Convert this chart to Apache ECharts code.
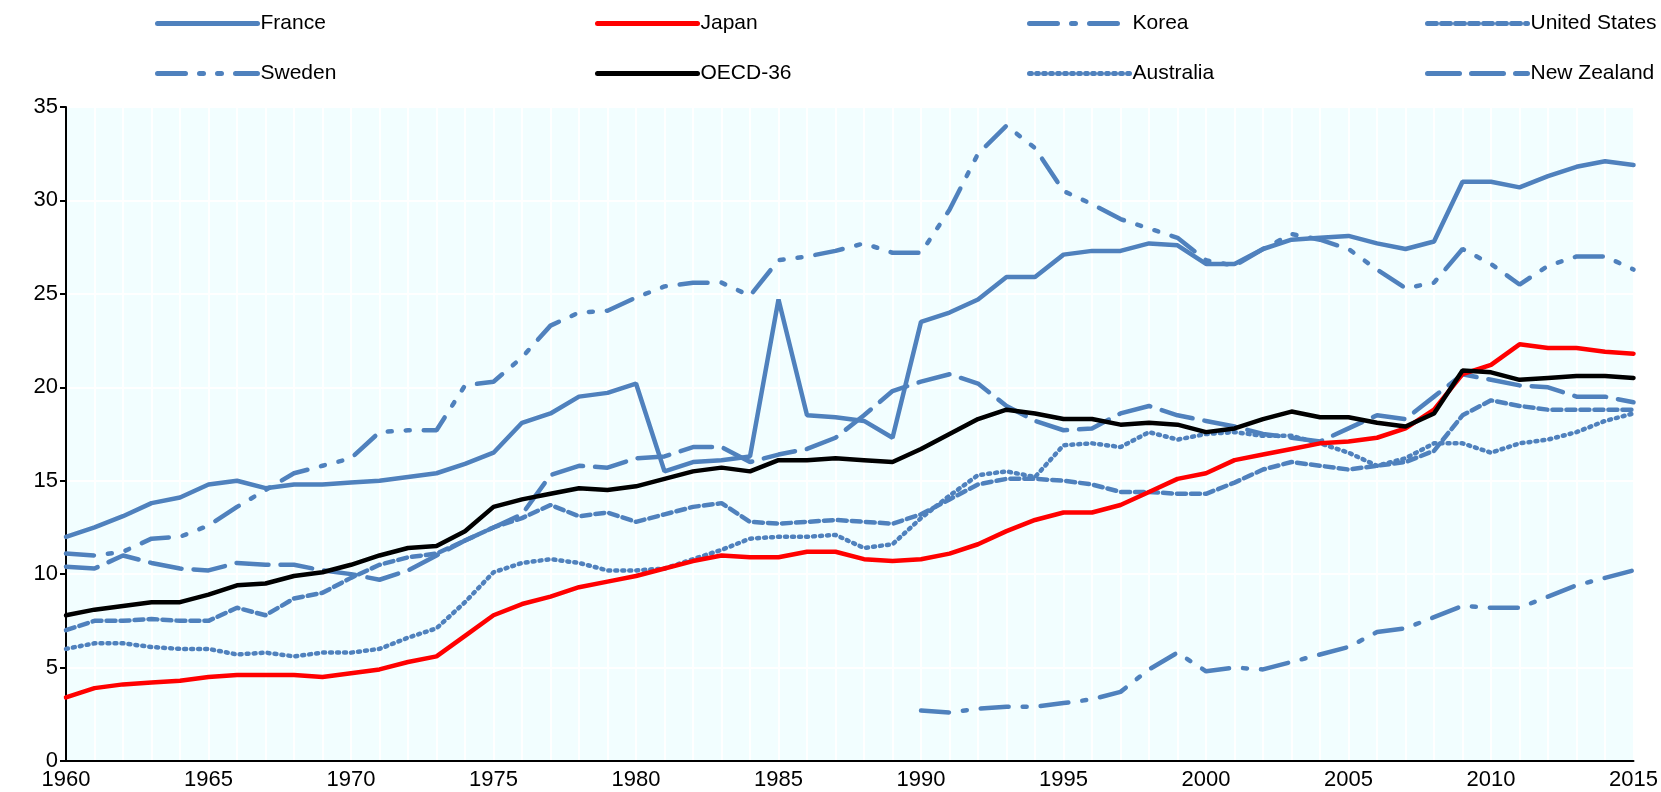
<!DOCTYPE html>
<html>
<head>
  <meta charset="utf-8">
  <script src="https://cdn.jsdelivr.net/npm/echarts@6/dist/echarts.min.js"></script>
  <style>
    html, body { margin: 0; padding: 0; background: #fff; }
    #main { width: 1661px; height: 792px; }
  </style>
</head>
<body>
<div id="main"></div>
<script>
  var years = [];
  for (var y = 1960; y <= 2015; y++) years.push(String(y));

  var france = [12,12.5,13.1,13.8,14.1,14.8,15,14.6,14.8,14.8,14.9,15,15.2,15.4,15.9,16.5,18.1,18.6,19.5,19.7,20.2,15.5,16,16.1,16.3,24.7,18.5,18.4,18.2,17.3,23.5,24,24.7,25.9,25.9,27.1,27.3,27.3,27.7,27.6,26.6,26.6,27.4,27.9,28,28.1,27.7,27.4,27.8,31,31,30.7,31.3,31.8,32.1,31.9];
  var japan = [3.4,3.9,4.1,4.2,4.3,4.5,4.6,4.6,4.6,4.5,4.7,4.9,5.3,5.6,6.7,7.8,8.4,8.8,9.3,9.6,9.9,10.3,10.7,11,10.9,10.9,11.2,11.2,10.8,10.7,10.8,11.1,11.6,12.3,12.9,13.3,13.3,13.7,14.4,15.1,15.4,16.1,16.4,16.7,17,17.1,17.3,17.8,18.8,20.7,21.2,22.3,22.1,22.1,21.9,21.8];
  var korea = [null,null,null,null,null,null,null,null,null,null,null,null,null,null,null,null,null,null,null,null,null,null,null,null,null,null,null,null,null,null,2.7,2.6,2.8,2.9,2.9,3.1,3.3,3.7,4.9,5.8,4.8,5.0,4.9,5.3,5.7,6.1,6.9,7.1,7.7,8.3,8.2,8.2,8.8,9.4,9.8,10.2];
  var unitedStates = [7,7.5,7.5,7.6,7.5,7.5,8.2,7.8,8.7,9,9.8,10.5,10.9,11.1,11.8,12.5,13,13.7,13.1,13.3,12.8,13.2,13.6,13.8,12.8,12.7,12.8,12.9,12.8,12.7,13.2,14,14.8,15.1,15.1,15,14.8,14.4,14.4,14.3,14.3,14.9,15.6,16,15.8,15.6,15.8,16,16.6,18.5,19.3,19,18.8,18.8,18.8,18.8];
  var sweden = [11.1,11,11.2,11.9,12,12.6,13.6,14.5,15.4,15.8,16.2,17.6,17.7,17.7,20.1,20.3,21.6,23.3,24,24.1,24.8,25.4,25.6,25.6,24.9,26.8,27,27.3,27.7,27.2,27.2,29.5,32.5,34,32.8,30.5,29.8,29,28.5,28,26.8,26.5,27.4,28.2,27.9,27.4,26.3,25.3,25.6,27.4,26.6,25.5,26.5,27,27,26.3];
  var oecd = [7.8,8.1,8.3,8.5,8.5,8.9,9.4,9.5,9.9,10.1,10.5,11,11.4,11.5,12.3,13.6,14,14.3,14.6,14.5,14.7,15.1,15.5,15.7,15.5,16.1,16.1,16.2,16.1,16,16.7,17.5,18.3,18.8,18.6,18.3,18.3,18,18.1,18,17.6,17.8,18.3,18.7,18.4,18.4,18.1,17.9,18.6,20.9,20.8,20.4,20.5,20.6,20.6,20.5];
  var australia = [6,6.3,6.3,6.1,6,6,5.7,5.8,5.6,5.8,5.8,6,6.6,7.1,8.5,10.1,10.6,10.8,10.6,10.2,10.2,10.3,10.8,11.3,11.9,12,12,12.1,11.4,11.6,13,14.2,15.3,15.5,15.2,16.9,17,16.8,17.6,17.2,17.5,17.6,17.4,17.4,17,16.5,15.8,16.2,17,17,16.5,17,17.2,17.6,18.2,18.6];
  var newZealand = [10.4,10.3,11,10.6,10.3,10.2,10.6,10.5,10.5,10.2,10,9.7,10.2,11,11.8,12.5,13.2,15.3,15.8,15.7,16.2,16.3,16.8,16.8,16,16.4,16.7,17.3,18.5,19.8,20.3,20.7,20.2,19,18.2,17.7,17.8,18.6,19,18.5,18.2,17.9,17.5,17.3,17.1,17.8,18.5,18.3,19.5,20.7,20.4,20.1,20,19.5,19.5,19.2];

  var blue = '#4f81bd';
  var font = "'Liberation Sans', Arial, sans-serif";

  var seriesDefs = [
    { name: 'France', data: france, color: blue, type: 'solid', col: 0, row: 0 },
    { name: 'Japan', data: japan, color: '#ff0000', type: 'solid', col: 1, row: 0 },
    { name: 'Korea', data: korea, color: blue, type: [28, 14, 4, 14], col: 2, row: 0 },
    { name: 'United States', data: unitedStates, color: blue, type: [9, 5], col: 3, row: 0 },
    { name: 'Sweden', data: sweden, color: blue, type: [28, 14, 4, 14, 4, 14], col: 0, row: 1 },
    { name: 'OECD-36', data: oecd, color: '#000000', type: 'solid', col: 1, row: 1 },
    { name: 'Australia', data: australia, color: blue, type: [2, 5], col: 2, row: 1 },
    { name: 'New Zealand', data: newZealand, color: blue, type: [32, 12], col: 3, row: 1 }
  ];
  var colLeft = [150, 590, 1022, 1420];
  var rowTop = [8, 58];

  var chart = echarts.init(document.getElementById('main'));
  chart.setOption({
    animation: false,
    textStyle: { fontFamily: font },
    legend: seriesDefs.map(function (s) {
      return {
        data: [s.name], left: colLeft[s.col], top: rowTop[s.row],
        itemWidth: 100, itemHeight: 14, itemGap: 0,
        itemStyle: { opacity: 0 },
        lineStyle: { width: 5 },
        textStyle: { fontSize: 21, color: '#000', fontFamily: font, padding: [0, 0, 0, -2] }
      };
    }),
    grid: { left: 66, right: 21, top: 107, bottom: 31, backgroundColor: '#f2feff', show: true, borderWidth: 0 },
    xAxis: {
      type: 'category', data: years, boundaryGap: false,
      axisLine: { lineStyle: { color: '#000', width: 2 } },
      axisTick: { show: false },
      axisLabel: { color: '#000', fontSize: 22, interval: function (i, v) { return (+v) % 5 === 0; }, showMaxLabel: true },
      splitLine: { show: true, interval: 0, lineStyle: { color: '#ffffff', width: 2 } }
    },
    yAxis: {
      type: 'value', min: 0, max: 35, interval: 5,
      axisLine: { show: true, lineStyle: { color: '#000', width: 2 } },
      axisTick: { show: true, inside: false, length: 6, lineStyle: { color: '#000', width: 2 } },
      axisLabel: { color: '#000', fontSize: 22 },
      splitLine: { show: true, lineStyle: { color: '#ffffff', width: 2 } }
    },
    series: seriesDefs.map(function (s) {
      return {
        name: s.name, type: 'line', data: s.data, symbol: 'none',
        itemStyle: { color: s.color },
        lineStyle: { color: s.color, width: 4.5, type: s.type, cap: 'round' },
        z: s.name === 'OECD-36' || s.name === 'Japan' ? 3 : 2
      };
    })
  });
</script>
</body>
</html>
